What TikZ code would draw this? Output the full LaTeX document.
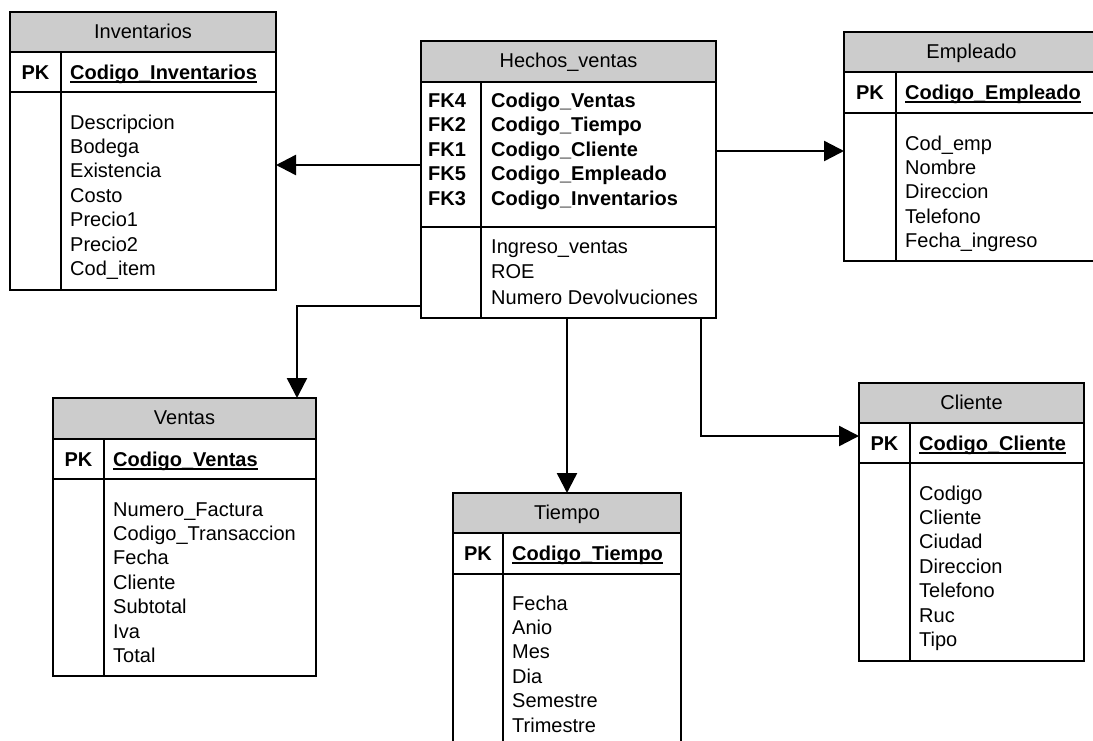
\documentclass[tikz,border=0pt]{standalone}
\usepackage{fontspec}
\setmainfont{Liberation Sans}
\usetikzlibrary{arrows.meta,calc}
\definecolor{hdrgray}{RGB}{204,204,204}

% bold, underlined primary key name
\newcommand\keyul[1]{\setbox0=\hbox{\textbf{#1}}\rlap{\rule[-3.5pt]{\wd0}{1.4pt}}\box0}

% table frame: name, left, right, top, header bottom, key bottom, bottom, divider x, title
\newcommand\tablebox[9]{%
  \fill[hdrgray] (#2,#4) rectangle (#3,#5);
  \node[frame, minimum width={(#3-#2)*1pt}, minimum height={(#7-#4)*1pt}] (#1) at (#2,#4) {};
  \draw[rule] (#2,#5) -- (#3,#5) (#2,#6) -- (#3,#6) (#8,#5) -- (#8,#7);
  \node[ttl] (#1-title) at ({(#2+#3)/2},{#4+26}) {#9};
}

\begin{document}
\begin{tikzpicture}[x=1pt,y=-1pt,
  txt/.style={inner sep=0pt, font=\fontsize{20}{24.4}\selectfont, anchor=base west},
  ttl/.style={inner sep=0pt, font=\fontsize{20}{24.4}\selectfont, anchor=base},
  frame/.style={draw, line width=1.3pt, inner sep=0pt, outer sep=0pt, anchor=north west},
  rule/.style={line width=1.3pt},
  conn/.style={line width=2.4pt, -{Triangle[length=20pt,width=20pt]}}]
\clip (0,0) rectangle (1093,740);
\fill[white] (0,0) rectangle (1093,740);

% ---------- Inventarios ----------
\tablebox{inv}{10}{276}{12}{52}{92}{290}{61}{Inventarios}
\node[ttl] (inv-pk) at (35.5,79) {\textbf{PK}};
\node[txt] (inv-key) at (70,79) {\keyul{Codigo\_Inventarios}};
\foreach \a [count=\i from 0] in {Descripcion,Bodega,Existencia,Costo,Precio1,Precio2,Cod\_item}
  \node[txt] (inv-a\i) at (70,{129+24.4*\i}) {\a};

% ---------- Hechos_ventas ----------
\tablebox{hv}{421}{716}{41}{82}{227}{318}{481}{Hechos\_ventas}
\foreach \f/\n [count=\i from 0] in {FK4/Codigo\_Ventas,FK2/Codigo\_Tiempo,FK1/Codigo\_Cliente,FK5/Codigo\_Empleado,FK3/Codigo\_Inventarios}{
  \node[txt] (hv-f\i) at (428,{107+24.5*\i}) {\textbf{\f}};
  \node[txt] (hv-k\i) at (491,{107+24.5*\i}) {\textbf{\n}};
}
\foreach \a [count=\i from 0] in {Ingreso\_ventas,ROE,Numero Devolvuciones}
  \node[txt] (hv-a\i) at (491,{253+25.5*\i}) {\a};

% ---------- Empleado ----------
\tablebox{emp}{844}{1099}{32}{72}{113}{261}{896}{Empleado}
\node[ttl] (emp-pk) at (870,99) {\textbf{PK}};
\node[txt] (emp-key) at (905,99) {\keyul{Codigo\_Empleado}};
\foreach \a [count=\i from 0] in {Cod\_emp,Nombre,Direccion,Telefono,Fecha\_ingreso}
  \node[txt] (emp-a\i) at (905,{150+24.4*\i}) {\a};

% ---------- Ventas ----------
\tablebox{ven}{53}{316}{398}{439}{479}{676}{104}{Ventas}
\node[ttl] (ven-pk) at (78.5,466) {\textbf{PK}};
\node[txt] (ven-key) at (113,466) {\keyul{Codigo\_Ventas}};
\foreach \a [count=\i from 0] in {Numero\_Factura,Codigo\_Transaccion,Fecha,Cliente,Subtotal,Iva,Total}
  \node[txt] (ven-a\i) at (113,{516+24.4*\i}) {\a};

% ---------- Tiempo ----------
\tablebox{tie}{453}{681}{493}{533}{574}{770}{503}{Tiempo}
\node[ttl] (tie-pk) at (478,560) {\textbf{PK}};
\node[txt] (tie-key) at (512,560) {\keyul{Codigo\_Tiempo}};
\foreach \a [count=\i from 0] in {Fecha,Anio,Mes,Dia,Semestre,Trimestre}
  \node[txt] (tie-a\i) at (512,{610+24.4*\i}) {\a};

% ---------- Cliente ----------
\tablebox{cli}{859}{1084}{383}{423}{463}{661}{910}{Cliente}
\node[ttl] (cli-pk) at (884.5,450) {\textbf{PK}};
\node[txt] (cli-key) at (919,450) {\keyul{Codigo\_Cliente}};
\foreach \a [count=\i from 0] in {Codigo,Cliente,Ciudad,Direccion,Telefono,Ruc,Tipo}
  \node[txt] (cli-a\i) at (919,{500+24.4*\i}) {\a};

% ---------- relationships ----------
\coordinate (yInv) at (0,165);
\coordinate (yEmp) at (0,151);
\coordinate (yVen) at (0,306);
\coordinate (xVen) at (297,0);
\coordinate (xCli) at (701,0);
\coordinate (yCli) at (0,436);

\draw[conn] (hv.west |- yInv) -- (inv.east |- yInv);
\draw[conn] (hv.east |- yEmp) -- (emp.west |- yEmp);
\draw[conn] (hv.west |- yVen) -| (xVen |- ven.north);
\draw[conn] (hv.south -| tie.north) -- (tie.north);
\draw[conn] (hv.south -| xCli) |- (cli.west |- yCli);
\end{tikzpicture}
\end{document}
